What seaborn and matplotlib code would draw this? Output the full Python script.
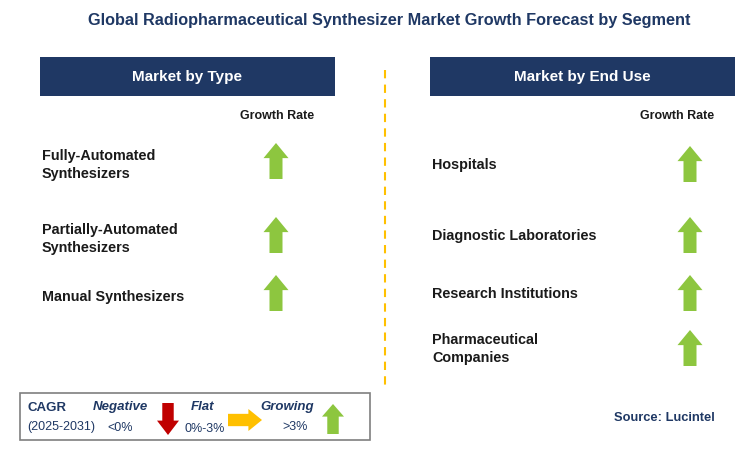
import matplotlib
matplotlib.use("Agg")
import matplotlib.pyplot as plt
from matplotlib.patches import Rectangle, Polygon
import seaborn as sns
import pandas as pd

title = "Global Radiopharmaceutical Synthesizer Market Growth Forecast by Segment"
type_labels = ["Fully-Automated\nSynthesizers", "Partially-Automated\nSynthesizers", "Manual Synthesizers"]
type_growth = ["Growing", "Growing", "Growing"]
enduse_labels = ["Hospitals", "Diagnostic Laboratories", "Research Institutions", "Pharmaceutical\nCompanies"]
enduse_growth = ["Growing", "Growing", "Growing", "Growing"]

type_y = [161, 235, 293]
enduse_y = [164, 235, 293, 348]

sns.set_theme(style="white")
plt.rcParams["font.family"] = "Liberation Sans"
fig = plt.figure(figsize=(7.4, 4.63), dpi=100)
ax = fig.add_axes([0, 0, 1, 1])
ax.set_xlim(0, 740); ax.set_ylim(463, 0); ax.axis("off")

NAVY = "#1F3864"; GREEN = "#8DC63F"; RED = "#C00000"; YEL = "#FFC000"; TXT = "#1a1a1a"

def up_arrow(cx, cy, w=25, h=36, color=GREEN):
    hw = w / 2; sw = w * 0.26; hh = h * 0.42
    pts = [(cx - sw, cy + h/2), (cx - sw, cy - h/2 + hh), (cx - hw, cy - h/2 + hh),
           (cx, cy - h/2), (cx + hw, cy - h/2 + hh), (cx + sw, cy - h/2 + hh), (cx + sw, cy + h/2)]
    ax.add_patch(Polygon(pts, closed=True, color=color, lw=0))

def down_arrow(cx, cy, w=24, h=34, color=RED):
    hw = w / 2; sw = w * 0.26; hh = h * 0.45
    pts = [(cx - sw, cy - h/2), (cx - sw, cy + h/2 - hh), (cx - hw, cy + h/2 - hh),
           (cx, cy + h/2), (cx + hw, cy + h/2 - hh), (cx + sw, cy + h/2 - hh), (cx + sw, cy - h/2)]
    ax.add_patch(Polygon(pts, closed=True, color=color, lw=0))

def right_arrow(cx, cy, w=34, h=22, color=YEL):
    hh = h / 2; sh = h * 0.28; hw = w * 0.4
    pts = [(cx - w/2, cy - sh), (cx + w/2 - hw, cy - sh), (cx + w/2 - hw, cy - hh),
           (cx + w/2, cy), (cx + w/2 - hw, cy + hh), (cx + w/2 - hw, cy + sh), (cx - w/2, cy + sh)]
    ax.add_patch(Polygon(pts, closed=True, color=color, lw=0))

ax.text(389, 20, title, ha="center", va="center", fontsize=11.7, fontweight="bold", color=NAVY)

for x0, x1, lab in [(40, 335, "Market by Type"), (430, 735, "Market by End Use")]:
    ax.add_patch(Rectangle((x0, 57), x1 - x0, 39, color=NAVY, lw=0))
    ax.text((x0 + x1) / 2, 76.5, lab, ha="center", va="center", color="white", fontsize=11, fontweight="bold")

ax.plot([385, 385], [70, 385], ls=(0, (4, 3)), color="#FFC000", lw=1.5)

ax.text(277, 116, "Growth Rate", ha="center", va="center", fontsize=9, fontweight="bold", color=TXT)
ax.text(677, 116, "Growth Rate", ha="center", va="center", fontsize=9, fontweight="bold", color=TXT)

for lab, y, g in zip(type_labels, type_y, type_growth):
    ax.text(42, y + 4, lab, ha="left", va="center", fontsize=10.4, fontweight="bold", color=TXT, linespacing=1.45)
    up_arrow(276, y)
for lab, y, g in zip(enduse_labels, enduse_y, enduse_growth):
    ax.text(432, y + 1, lab, ha="left", va="center", fontsize=10.4, fontweight="bold", color=TXT, linespacing=1.45)
    up_arrow(690, y)

# legend box
ax.add_patch(Rectangle((20, 393), 350, 47, fill=False, edgecolor="#7f7f7f", lw=1.2))
ax.text(27, 408, "CAGR", fontsize=9.5, fontweight="bold", color=NAVY, va="center")
ax.text(27, 427, "(2025-2031)", fontsize=9, color=NAVY, va="center")
ax.text(120, 407, "Negative", fontsize=9.5, fontweight="bold", style="italic", color=NAVY, ha="center", va="center")
ax.text(120, 428, "<0%", fontsize=9, color=NAVY, ha="center", va="center")
down_arrow(168, 419, w=22, h=32)
ax.text(203, 407, "Flat", fontsize=9.5, fontweight="bold", style="italic", color=NAVY, ha="center", va="center")
ax.text(205, 429, "0%-3%", fontsize=9, color=NAVY, ha="center", va="center")
right_arrow(245, 420, w=34, h=22)
ax.text(287, 407, "Growing", fontsize=9.5, fontweight="bold", style="italic", color=NAVY, ha="center", va="center")
ax.text(295, 427, ">3%", fontsize=9, color=NAVY, ha="center", va="center")
up_arrow(333, 419, w=22, h=30)

ax.text(715, 418, "Source: Lucintel", ha="right", va="center", fontsize=9.3, fontweight="bold", color=NAVY)

fig.savefig("out.png", dpi=100)
